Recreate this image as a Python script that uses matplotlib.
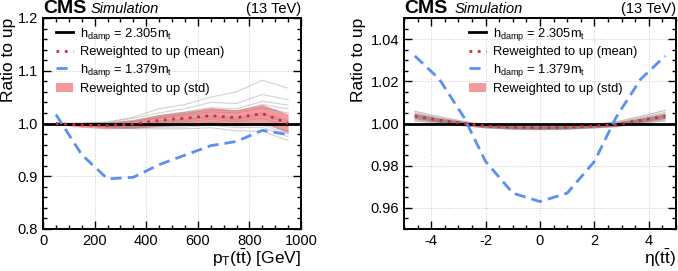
import numpy as np
import matplotlib
matplotlib.use('Agg')
import matplotlib.pyplot as plt
from matplotlib.ticker import MultipleLocator
from matplotlib.lines import Line2D
from matplotlib.patches import Patch

plt.rcParams['font.family'] = ['Liberation Sans', 'DejaVu Sans']
plt.rcParams['mathtext.fontset'] = 'custom'
plt.rcParams['mathtext.rm'] = 'Liberation Sans'
plt.rcParams['mathtext.it'] = 'Liberation Sans:italic'
plt.rcParams['axes.unicode_minus'] = False

# ---- pT(tt) panel ----
pt_centers = [50, 150, 250, 350, 450, 550, 650, 750, 850, 950]
pt_low = [1.017, 0.941, 0.895, 0.898, 0.922, 0.940, 0.958, 0.966, 0.987, 0.979]
pt_mean = [1.000, 0.997, 0.996, 0.999, 1.006, 1.010, 1.015, 1.011, 1.019, 1.000]
pt_std = [0.002, 0.004, 0.006, 0.008, 0.011, 0.013, 0.015, 0.015, 0.017, 0.018]
pt_replicas = [
    [1.000, 1.001, 1.003, 1.012, 1.028, 1.036, 1.050, 1.060, 1.082, 1.067],
    [1.000, 1.000, 1.002, 1.010, 1.020, 1.028, 1.040, 1.038, 1.055, 1.045],
    [1.000, 1.000, 1.001, 1.006, 1.015, 1.022, 1.030, 1.028, 1.042, 1.035],
    [1.000, 0.999, 1.000, 1.004, 1.012, 1.018, 1.026, 1.024, 1.036, 1.028],
    [1.000, 0.999, 0.999, 1.003, 1.010, 1.015, 1.022, 1.020, 1.030, 1.020],
    [1.000, 0.998, 0.997, 0.999, 1.005, 1.008, 1.015, 1.010, 1.020, 1.005],
    [1.000, 0.997, 0.996, 0.997, 1.002, 1.006, 1.012, 1.007, 1.016, 1.001],
    [1.000, 0.998, 0.996, 0.996, 1.000, 1.003, 1.008, 1.004, 1.010, 0.995],
    [1.000, 0.997, 0.995, 0.994, 0.996, 0.998, 1.002, 0.998, 1.000, 0.985],
    [1.000, 0.996, 0.994, 0.993, 0.994, 0.996, 1.000, 0.995, 0.997, 0.980],
    [1.000, 0.997, 0.994, 0.992, 0.993, 0.993, 0.997, 0.992, 0.993, 0.975],
    [1.000, 0.996, 0.993, 0.990, 0.990, 0.990, 0.992, 0.986, 0.985, 0.968],
]

# ---- eta(tt) panel ----
eta_centers = [-4.6, -3.7, -2.8, -2.0, -1.0, 0.0, 1.0, 2.0, 2.8, 3.7, 4.6]
eta_low = [1.032, 1.021, 1.003, 0.982, 0.967, 0.963, 0.967, 0.982, 1.003, 1.021, 1.032]
eta_mean = [1.0035, 1.0015, 1.0000, 0.9988, 0.9982, 0.9980, 0.9982, 0.9988, 0.9995, 1.0015, 1.0035]
eta_std = [0.0012, 0.0010, 0.0009, 0.0008, 0.0008, 0.0008, 0.0008, 0.0008, 0.0009, 0.0010, 0.0012]
eta_replicas = [
    [1.0058, 1.0032, 1.0010, 0.9995, 0.9988, 0.9986, 0.9988, 0.9996, 1.0008, 1.0034, 1.0062],
    [1.0050, 1.0026, 1.0006, 0.9992, 0.9985, 0.9984, 0.9985, 0.9993, 1.0004, 1.0027, 1.0052],
    [1.0045, 1.0022, 1.0004, 0.9991, 0.9984, 0.9983, 0.9984, 0.9991, 1.0001, 1.0022, 1.0045],
    [1.0040, 1.0019, 1.0002, 0.9989, 0.9983, 0.9981, 0.9983, 0.9989, 0.9998, 1.0018, 1.0040],
    [1.0036, 1.0016, 1.0001, 0.9988, 0.9982, 0.9980, 0.9982, 0.9988, 0.9997, 1.0016, 1.0036],
    [1.0032, 1.0013, 0.9999, 0.9987, 0.9981, 0.9979, 0.9981, 0.9987, 0.9995, 1.0013, 1.0032],
    [1.0028, 1.0010, 0.9997, 0.9985, 0.9979, 0.9977, 0.9979, 0.9985, 0.9993, 1.0010, 1.0028],
    [1.0024, 1.0008, 0.9995, 0.9984, 0.9978, 0.9976, 0.9978, 0.9984, 0.9991, 1.0008, 1.0024],
    [1.0018, 1.0004, 0.9992, 0.9982, 0.9976, 0.9974, 0.9976, 0.9982, 0.9988, 1.0004, 1.0018],
    [1.0012, 1.0000, 0.9989, 0.9979, 0.9973, 0.9971, 0.9973, 0.9979, 0.9985, 1.0000, 1.0012],
]

BLUE = '#5790fc'
RED = '#e42536'
BAND = '#f4999c'

fig = plt.figure(figsize=(6.78, 2.71), dpi=100)
ax1 = fig.add_axes([43 / 678, 42 / 271, 258 / 678, 211 / 271])
ax2 = fig.add_axes([404 / 678, 42 / 271, 272 / 678, 211 / 271])


def draw_panel(ax, x, low, mean, std, replicas, gray_alpha):
    x = np.array(x)
    mean = np.array(mean)
    std = np.array(std)
    ax.fill_between(x, mean - std, mean + std, color=BAND, lw=0, zorder=2)
    for r in replicas:
        ax.plot(x, r, color='gray', lw=0.8, alpha=gray_alpha, zorder=3)
    ax.axhline(1.0, color='black', lw=2, zorder=4)
    ax.plot(x, mean, color=RED, lw=2, ls=(0, (1, 2)), zorder=5)
    ax.plot(x, low, color=BLUE, lw=2, ls=(0, (4, 2.2)), zorder=5)
    ax.grid(True, which='major', ls=':', color='#cccccc', lw=0.7, zorder=0)
    ax.tick_params(which='both', direction='in', top=True, right=True, labelsize=10.5)
    ax.tick_params(which='major', length=6, width=1)
    ax.tick_params(which='minor', length=3, width=1)
    for s in ax.spines.values():
        s.set_linewidth(1.4)
    ax.set_ylabel('Ratio to up', fontsize=12.5, loc='top')
    ax.text(0, 1.005, 'CMS', transform=ax.transAxes, fontsize=14, fontweight='bold', va='bottom', ha='left')
    ax.text(48 / 258, 1.008, 'Simulation', transform=ax.transAxes, fontsize=10.5, style='italic',
            va='bottom', ha='left')
    ax.text(1, 1.008, '(13 TeV)', transform=ax.transAxes, fontsize=10.5, va='bottom', ha='right')


def add_legend(ax, loc_x):
    handles = [
        Line2D([], [], color='black', lw=2),
        Line2D([], [], color=RED, lw=2, ls=(0, (1, 2))),
        Line2D([], [], color=BLUE, lw=2, ls=(0, (4, 2.2))),
        Patch(facecolor=BAND, edgecolor='none'),
    ]
    labels = [r'$\mathregular{h_{damp}}$ = 2.305$\mathregular{m_t}$',
              'Reweighted to up (mean)',
              r'$\mathregular{h_{damp}}$ = 1.379$\mathregular{m_t}$',
              'Reweighted to up (std)']
    ax.legend(handles, labels, loc='upper left', bbox_to_anchor=(loc_x, 1.0), frameon=False,
              fontsize=9.3, handlelength=1.35, handletextpad=0.55, labelspacing=0.28,
              borderaxespad=0.2)


draw_panel(ax1, pt_centers, pt_low, pt_mean, pt_std, pt_replicas, 0.35)
ax1.set_xlim(0, 1000)
ax1.set_ylim(0.8, 1.2)
ax1.xaxis.set_major_locator(MultipleLocator(200))
ax1.xaxis.set_minor_locator(MultipleLocator(50))
ax1.yaxis.set_major_locator(MultipleLocator(0.1))
ax1.yaxis.set_minor_locator(MultipleLocator(0.02))
ax1.set_xlabel(r'$\mathregular{p_T(t\bar{t})}$ [GeV]', fontsize=12.5, loc='right', labelpad=0)
ax1.yaxis.set_label_coords(-0.105, 1.0)
add_legend(ax1, 0.02)

draw_panel(ax2, eta_centers, eta_low, eta_mean, eta_std, eta_replicas, 0.5)
ax2.set_xlim(-5, 5)
ax2.set_ylim(0.95, 1.05)
ax2.xaxis.set_major_locator(MultipleLocator(2))
ax2.xaxis.set_minor_locator(MultipleLocator(0.5))
ax2.yaxis.set_major_locator(MultipleLocator(0.02))
ax2.yaxis.set_minor_locator(MultipleLocator(0.005))
ax2.set_xlabel(r'$\mathregular{\eta(t\bar{t})}$', fontsize=12.5, loc='right', labelpad=0)
ax2.yaxis.set_label_coords(-0.14, 1.0)
add_legend(ax2, 0.21)

fig.savefig('out.png', dpi=100)
